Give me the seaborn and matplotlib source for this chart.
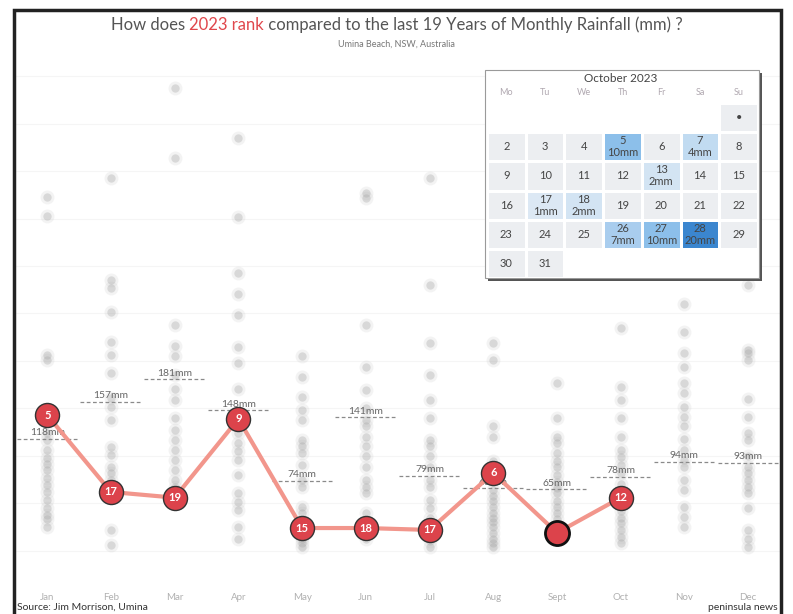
import numpy as np
import pandas as pd
import seaborn as sns
import matplotlib.pyplot as plt
from matplotlib.patches import Rectangle
from matplotlib.colors import LinearSegmentedColormap

## data
months = ["Jan", "Feb", "Mar", "Apr", "May", "Jun", "Jul", "Aug", "Sept", "Oct", "Nov", "Dec"]

# previous years monthly rainfall (mm)
hist_jan = [373, 353, 206, 201, 124, 117, 106, 98, 91, 85, 77, 69, 62, 54, 45, 38, 33, 25]
hist_feb = [393, 285, 277, 252, 220, 206, 187, 161, 152, 138, 109, 101, 88, 82, 75, 68, 22, 6]
hist_mar = [488, 414, 238, 216, 205, 185, 170, 159, 140, 127, 117, 106, 96, 85, 75, 67, 61, 58]
hist_apr = [435, 352, 293, 270, 248, 215, 198, 170, 124, 114, 105, 96, 80, 61, 51, 43, 25, 12]
hist_may = [205, 183, 162, 148, 138, 117, 110, 103, 90, 75, 67, 46, 40, 30, 15, 12, 8, 4]
hist_jun = [377, 372, 238, 194, 169, 150, 138, 131, 120, 110, 100, 88, 75, 67, 61, 40, 28, 12]
hist_jul = [393, 280, 219, 185, 159, 140, 117, 110, 100, 88, 75, 67, 54, 45, 35, 25, 10, 4]
hist_aug = [219, 201, 131, 120, 95, 75, 64, 58, 52, 46, 40, 35, 30, 25, 19, 12, 8, 4]
hist_sep = [177, 140, 120, 114, 103, 95, 88, 80, 72, 66, 61, 52, 46, 40, 33, 25, 20, 12]
hist_oct = [300, 235, 173, 159, 140, 120, 106, 99, 90, 82, 70, 50, 42, 35, 29, 22, 15, 8]
hist_nov = [260, 230, 208, 194, 177, 166, 152, 141, 131, 118, 106, 96, 88, 75, 64, 46, 36, 25]
hist_dec = [280, 212, 208, 201, 160, 141, 124, 117, 100, 88, 82, 75, 67, 61, 45, 22, 12, 4]

# 2023 (Jan - Oct)
rain_2023 = [143, 62, 56, 139, 24, 24, 22, 82, 19, 56]
rank_2023 = ["5", "17", "19", "9", "15", "18", "17", "6", "", "12"]

# monthly averages
avg_mm = [118, 157, 181, 148, 74, 141, 79, 66, 65, 78, 94, 93]

# October 2023 daily rain
oct_rain_days = [5, 7, 13, 17, 18, 26, 27, 28]
oct_rain_mm = [10, 4, 2, 1, 2, 7, 10, 20]
weekdays = ["Mo", "Tu", "We", "Th", "Fr", "Sa", "Su"]

hist = [hist_jan, hist_feb, hist_mar, hist_apr, hist_may, hist_jun,
        hist_jul, hist_aug, hist_sep, hist_oct, hist_nov, hist_dec]
df = pd.DataFrame({"month": np.repeat(months, [len(h) for h in hist]),
                   "mm": np.concatenate(hist)})
df23 = pd.DataFrame({"x": np.arange(len(rain_2023)), "mm": rain_2023})

sns.set_theme(style="white")
plt.rcParams['font.family'] = ['Lato', 'DejaVu Sans']

W, H = 793, 614
fig = plt.figure(figsize=(W / 100, H / 100), dpi=100)

def fx(px):
    return px / W

def fy(py):
    return 1 - py / H

ax = fig.add_axes([fx(16), fy(585), fx(780) - fx(16), fy(60) - fy(585)])

ax.set_yticks(np.arange(0, 501, 50))
ax.grid(axis="y", color="#f5f5f5", lw=0.8)
ax.set_axisbelow(True)

# faint halo + dot for the older years
sns.stripplot(data=df, x="month", y="mm", order=months, jitter=False,
              color="#d0d0d0", alpha=0.25, size=10, linewidth=0, ax=ax, zorder=1)
sns.stripplot(data=df, x="month", y="mm", order=months, jitter=False,
              color="#a8a8a8", alpha=0.35, size=6, linewidth=0, ax=ax, zorder=1)

# average lines
for i, a in enumerate(avg_mm):
    ax.hlines(a, i - 0.48, i + 0.48, colors="#8a8a8a", lw=0.9, linestyles=(0, (3, 2)), zorder=2)
    ax.annotate(f"{a}mm", (i, a), xytext=(0, 1), textcoords="offset points",
                ha="center", va="bottom", fontsize=7.5, color="#666666", zorder=2)

sns.lineplot(data=df23, x="x", y="mm", color="#f2968c", lw=3, ax=ax, zorder=3)
sns.scatterplot(data=df23, x="x", y="mm", s=300, color="#dc434b", edgecolor="#333333",
                linewidth=1, ax=ax, zorder=4)
# last month highlighted
ax.scatter(df23["x"].iloc[-2], df23["mm"].iloc[-2], s=300, color="#dc434b",
           edgecolor="#111111", linewidth=2, zorder=5)
for i, (v, r) in enumerate(zip(rain_2023, rank_2023)):
    ax.text(i, v, r, ha="center", va="center", color="white", fontsize=8,
            fontweight="bold", zorder=6)

ax.set_xlim(-0.49, 11.5)
ax.set_ylim(-36, 517)
ax.set_xticks(range(12))
ax.set_xticklabels(months)
ax.tick_params(axis="x", length=0, pad=6, labelsize=7, labelcolor="#b0b0b0")
ax.set_yticklabels([])
ax.tick_params(axis="y", length=0)
ax.set_xlabel("")
ax.set_ylabel("")
for s in ax.spines.values():
    s.set_visible(False)

# title with coloured words
renderer = fig.canvas.get_renderer()
parts = [("How does ", "#555555"), ("2023 rank", "#e0474c"),
         (" compared to the last 19 Years of Monthly Rainfall (mm) ?", "#555555")]
texts = [fig.text(0, fy(25), s, color=c, fontsize=12, va="center") for s, c in parts]
widths = [t.get_window_extent(renderer).width / W for t in texts]
x0 = 0.5 - sum(widths) / 2
for t, w in zip(texts, widths):
    t.set_x(x0)
    x0 += w
fig.text(0.5, fy(44), "Umina Beach, NSW, Australia", ha="center", va="center",
         fontsize=6.5, color="#777777")

fig.text(fx(17), fy(607), "Source: Jim Morrison, Umina", ha="left", va="center",
         fontsize=7.5, color="#333333")
fig.text(fx(778), fy(607), "peninsula news", ha="right", va="center",
         fontsize=7.5, color="#333333")

# frame
fig.patches.append(Rectangle((fx(14), -0.05), fx(781) - fx(14), fy(10) + 0.05,
                             transform=fig.transFigure, fill=False, ec="#222222", lw=2.5, zorder=10))

# calendar box + shadow
fig.patches.append(Rectangle((fx(488), fy(281)), fx(762) - fx(488), fy(73) - fy(281),
                             transform=fig.transFigure, fc="#555555", ec="none", zorder=1))
fig.patches.append(Rectangle((fx(485), fy(278)), fx(759) - fx(485), fy(70) - fy(278),
                             transform=fig.transFigure, fc="white", ec="#9a9a9a", lw=0.8, zorder=2))
fig.text(fx(621), fy(79), "October 2023", ha="center", va="center", fontsize=8.5,
         color="#444444", zorder=4)

cal = np.full((6, 7), np.nan)
labels = np.full((6, 7), "", dtype=object)
for d in range(1, 32):
    r, c = divmod(d + 5, 7)
    cal[r, c] = 0
    labels[r, c] = "•" if d == 1 else str(d)
for d, mm in zip(oct_rain_days, oct_rain_mm):
    r, c = divmod(d + 5, 7)
    cal[r, c] = mm
    labels[r, c] = f"{d}\n{mm}mm"

cmap = LinearSegmentedColormap.from_list(
    "rain", [(0, "#eceef1"), (0.04, "#dde9f4"), (0.2, "#c1dbf1"), (0.35, "#a9cdee"),
             (0.5, "#8cbfea"), (1, "#3b86cf")])
cal_ax = fig.add_axes([fx(487), fy(278), fx(758) - fx(487), fy(103) - fy(278)])
cal_ax.set_zorder(3)
sns.heatmap(cal, mask=np.isnan(cal), cmap=cmap, vmin=0, vmax=20, cbar=False,
            annot=labels, fmt="", annot_kws={"fontsize": 8, "color": "#444444", "linespacing": 1.1},
            linewidths=1, linecolor="white", ax=cal_ax)
cal_ax.set_xticks([])
cal_ax.set_yticks([])
cal_ax.set_facecolor("white")
for i, wd in enumerate(weekdays):
    cal_ax.text(i + 0.5, -0.35, wd, ha="center", va="center", fontsize=6.5, color="#b0a8b0")

fig.savefig("out.png", dpi=100)
